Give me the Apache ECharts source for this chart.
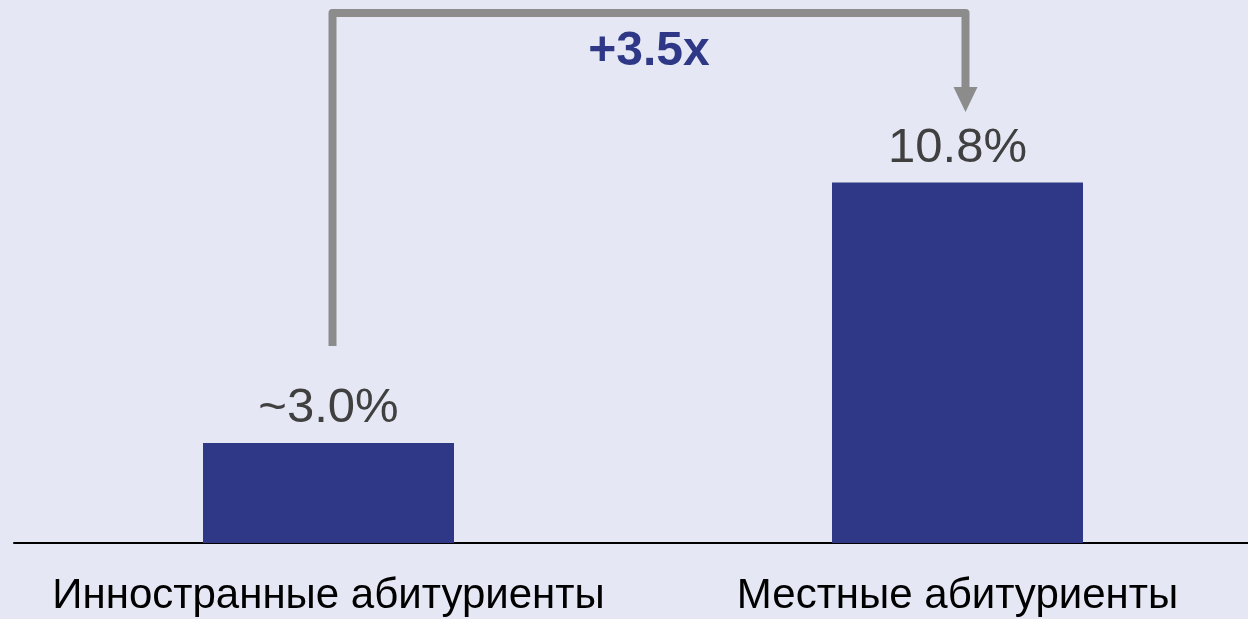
<!DOCTYPE html>
<html>
<head>
<meta charset="utf-8">
<script src="https://cdn.jsdelivr.net/npm/echarts@6/dist/echarts.min.js"></script>
<style>
  html, body { margin: 0; padding: 0; background: #E5E8F4; }
  #chart { width: 1248px; height: 619px; }
</style>
</head>
<body>
<div id="chart"></div>
<script>
// Share of applicants, two groups
const categories = ['Инностранные абитуриенты', 'Местные абитуриенты'];
const values = [3.0, 10.8];
const valueLabels = ['~3.0%', '10.8%'];
const ratioLabel = '+3.5x';

const NAVY = '#2E3886';
const GREY = '#8C8C8C';

const chart = echarts.init(document.getElementById('chart'), null, { renderer: 'canvas' });

chart.setOption({
  backgroundColor: '#E5E8F4',
  animation: false,
  grid: { left: 14, width: 1258, top: 9, bottom: 76, containLabel: false, outerBoundsMode: 'none' },
  xAxis: {
    type: 'category',
    data: categories,
    axisLine: { show: true, lineStyle: { color: '#000000', width: 2 } },
    axisTick: { show: false },
    axisLabel: {
      color: '#000000',
      fontFamily: 'Liberation Sans, Arial, sans-serif',
      fontSize: 42,
      margin: 32,
      interval: 0
    }
  },
  yAxis: {
    type: 'value',
    min: 0,
    max: 16,
    show: false,
    splitLine: { show: false }
  },
  series: [{
    type: 'bar',
    data: values,
    barWidth: 251,
    itemStyle: { color: NAVY },
    label: {
      show: true,
      position: 'top',
      distance: 10,
      color: '#404040',
      fontFamily: 'Liberation Sans, Arial, sans-serif',
      fontSize: 49,
      formatter: p => valueLabels[p.dataIndex]
    }
  }]
});

// Bracket with arrow from the first bar to the second, placed from the bars' own coordinates
function drawBracket() {
  const p0 = chart.convertToPixel({ seriesIndex: 0 }, [0, values[0]]);
  const p1 = chart.convertToPixel({ seriesIndex: 0 }, [1, values[1]]);
  const xL = p0[0] + 4;
  const xR = p1[0] + 8;
  const yBottom = chart.convertToPixel({ seriesIndex: 0 }, [0, 5.9])[1];
  const yTop = 13;
  const yArrow = 87;
  chart.setOption({
    graphic: [
      {
        type: 'polyline',
        shape: { points: [[xL, yBottom], [xL, yTop], [xR, yTop], [xR, yArrow + 2]] },
        style: { stroke: GREY, lineWidth: 8, fill: null, lineJoin: 'round' },
        silent: true
      },
      {
        type: 'polygon',
        shape: { points: [[xR - 12, yArrow], [xR + 12, yArrow], [xR, yArrow + 25]] },
        style: { fill: GREY },
        silent: true
      },
      {
        type: 'text',
        x: (xL + xR) / 2,
        y: 52,
        style: {
          text: ratioLabel,
          fill: NAVY,
          font: 'bold 48px "Liberation Sans", Arial, sans-serif',
          align: 'center',
          verticalAlign: 'middle'
        },
        silent: true
      }
    ]
  });
}
drawBracket();
</script>
</body>
</html>
